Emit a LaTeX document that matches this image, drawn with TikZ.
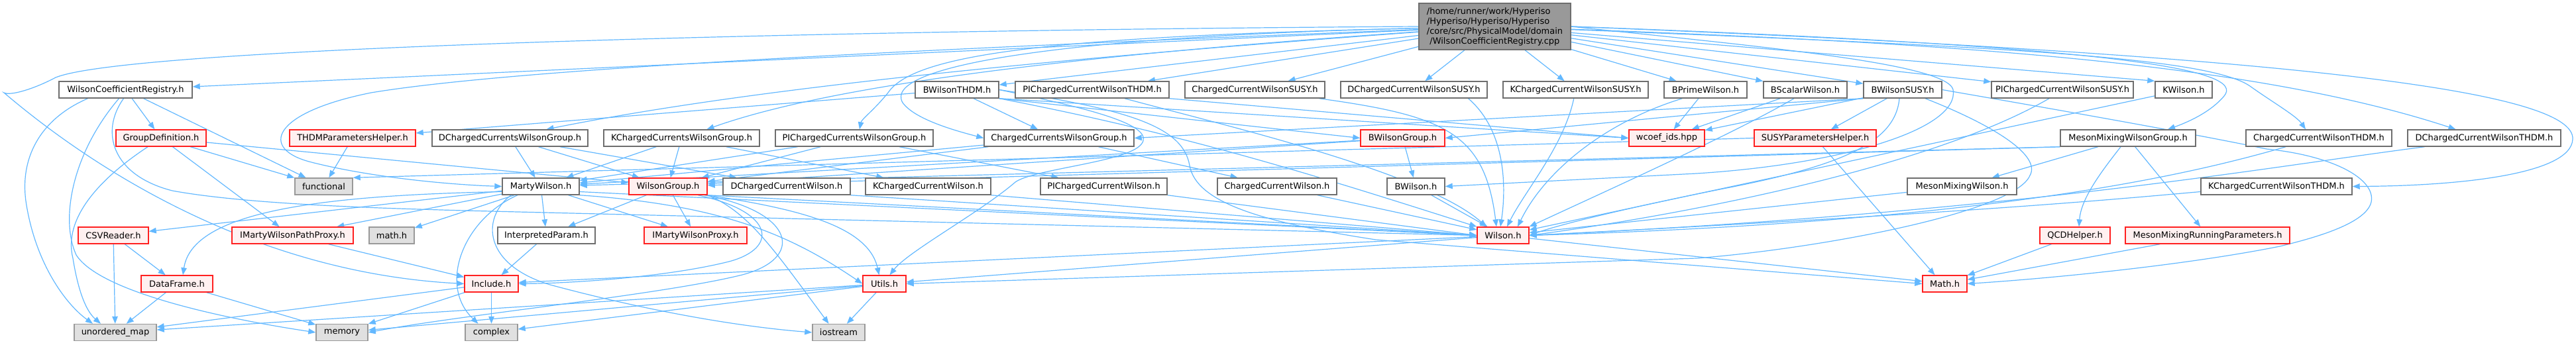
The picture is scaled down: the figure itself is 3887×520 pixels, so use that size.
\documentclass[tikz,border=0pt]{standalone}
\usepackage{fontspec}
\setmainfont{DejaVu Sans}
\usetikzlibrary{arrows.meta,backgrounds}
\definecolor{edgec}{HTML}{63B8FF}
\definecolor{nb}{HTML}{6E6E6E}
\definecolor{rb}{HTML}{FF2020}
\definecolor{rf}{HTML}{FFF0F0}
\definecolor{sf}{HTML}{E0E0E0}
\definecolor{sb}{HTML}{999999}
\definecolor{rootf}{HTML}{999999}
\begin{document}
\begin{tikzpicture}[x=1pt,y=-1pt,
  base/.style={line width=1.4pt,minimum height=25pt,inner sep=0pt,font=\fontsize{13}{15}\selectfont},
  wn/.style={base,draw=nb,fill=white},
  rn/.style={base,draw=rb,fill=rf},
  gn/.style={base,draw=sb,fill=sf},
  e/.style={draw=edgec,line width=1.2pt,-{Triangle[length=11pt,width=8.5pt]}}]
\useasboundingbox (0,0) rectangle (3887,520);
% root
\node[base,draw=nb,fill=rootf,minimum width=229pt,minimum height=70pt,align=left] (root) at (2255.5,40)
 {/home/runner/work/Hyperiso\\/Hyperiso/Hyperiso/Hyperiso\\/core/src/PhysicalModel/domain\\\hspace*{4.5pt}/WilsonCoefficientRegistry.cpp};
% row 1
\node[wn,minimum width=201pt] (wcr) at (189.5,135.5) {WilsonCoefficientRegistry.h};
\node[wn,minimum width=126pt] (bthdm) at (1444,135.5) {BWilsonTHDM.h};
\node[wn,minimum width=232pt] (pithdm) at (1648,135.5) {PIChargedCurrentWilsonTHDM.h};
\node[wn,minimum width=211pt] (ccsusy) at (1893.5,135.5) {ChargedCurrentWilsonSUSY.h};
\node[wn,minimum width=221pt] (dsusy) at (2133.5,135.5) {DChargedCurrentWilsonSUSY.h};
\node[wn,minimum width=219pt] (ksusy) at (2377.5,135.5) {KChargedCurrentWilsonSUSY.h};
\node[wn,minimum width=125pt] (bprime) at (2573.5,135.5) {BPrimeWilson.h};
\node[wn,minimum width=126pt] (bscalar) at (2724,135.5) {BScalarWilson.h};
\node[wn,minimum width=118pt] (bsusy) at (2871,135.5) {BWilsonSUSY.h};
\node[wn,minimum width=214pt] (pisusy) at (3112,135.5) {PIChargedCurrentWilsonSUSY.h};
\node[wn,minimum width=86pt] (kwilson) at (3295,135.5) {KWilson.h};
% row 2
\node[rn,minimum width=136pt] (gdef) at (243,208.5) {GroupDefinition.h};
\node[rn,minimum width=190pt] (thdmph) at (532,208.5) {THDMParametersHelper.h};
\node[wn,minimum width=235pt] (dcwg) at (769.5,208.5) {DChargedCurrentsWilsonGroup.h};
\node[wn,minimum width=235pt] (kcwg) at (1028.5,208.5) {KChargedCurrentsWilsonGroup.h};
\node[wn,minimum width=238pt] (picwg) at (1289,208.5) {PIChargedCurrentsWilsonGroup.h};
\node[wn,minimum width=226pt] (ccwg) at (1598,208.5) {ChargedCurrentsWilsonGroup.h};
\node[rn,minimum width=127pt] (bwg) at (2116.5,208.5) {BWilsonGroup.h};
\node[rn,minimum width=114pt] (wcoef) at (2515,208.5) {wcoef\_ids.hpp};
\node[rn,minimum width=184pt] (susyph) at (2739,208.5) {SUSYParametersHelper.h};
\node[wn,minimum width=204pt] (mmwg) at (3211,208.5) {MesonMixingWilsonGroup.h};
\node[wn,minimum width=220pt] (ccthdm) at (3499,208.5) {ChargedCurrentWilsonTHDM.h};
\node[wn,minimum width=231pt] (dthdm) at (3748.5,208.5) {DChargedCurrentWilsonTHDM.h};
% row 3
\node[gn,minimum width=87pt] (func) at (488.5,281.5) {functional};
\node[wn,minimum width=116pt] (marty) at (816,281.5) {MartyWilson.h};
\node[rn,minimum width=118pt] (wgrp) at (1008,281.5) {WilsonGroup.h};
\node[wn,minimum width=192pt] (dccw) at (1187,281.5) {DChargedCurrentWilson.h};
\node[wn,minimum width=189pt] (kccw) at (1400.5,281.5) {KChargedCurrentWilson.h};
\node[wn,minimum width=191pt] (piccw) at (1665.5,281.5) {PIChargedCurrentWilson.h};
\node[wn,minimum width=180pt] (ccw) at (1927,281.5) {ChargedCurrentWilson.h};
\node[wn,minimum width=87pt] (bwil) at (2136.5,281.5) {BWilson.h};
\node[wn,minimum width=165pt] (mmw) at (2960.5,281.5) {MesonMixingWilson.h};
\node[wn,minimum width=228pt] (kthdm) at (3435,281.5) {KChargedCurrentWilsonTHDM.h};
% row 4
\node[rn,minimum width=106pt] (csv) at (171,355.5) {CSVReader.h};
\node[rn,minimum width=183pt] (impp) at (441.5,355.5) {IMartyWilsonPathProxy.h};
\node[gn,minimum width=68pt] (mathl) at (591,355.5) {math.h};
\node[wn,minimum width=147pt] (interp) at (824.5,355.5) {InterpretedParam.h};
\node[rn,minimum width=155pt] (imp) at (1049.5,355.5) {IMartyWilsonProxy.h};
\node[rn,minimum width=78pt] (wilson) at (2268,355.5) {Wilson.h};
\node[rn,minimum width=106pt] (qcd) at (3131,355.5) {QCDHelper.h};
\node[rn,minimum width=248pt] (mmrp) at (3331,355.5) {MesonMixingRunningParameters.h};
% row 5
\node[rn,minimum width=108pt] (dataf) at (267,428.5) {DataFrame.h};
\node[rn,minimum width=81pt] (incl) at (741.5,428.5) {Include.h};
\node[rn,minimum width=65pt] (utils) at (1334.5,428.5) {Utils.h};
\node[rn,minimum width=67pt] (mathu) at (2934.5,428.5) {Math.h};
% row 6
\node[gn,minimum width=124pt] (umap) at (174,502) {unordered\_map};
\node[gn,minimum width=78pt] (memory) at (516,502) {memory};
\node[gn,minimum width=79pt] (complex) at (741.5,502) {complex};
\node[gn,minimum width=79pt] (iostream) at (1265.5,502) {iostream};

\begin{pgfonlayer}{background}
% ---- root
\draw[e] (root) -- (wcr);
\draw[e] (root) -- (bthdm);
\draw[e] (root) -- (pithdm);
\draw[e] (root) -- (ccsusy);
\draw[e] (root) -- (dsusy);
\draw[e] (root) -- (ksusy);
\draw[e] (root) -- (bprime);
\draw[e] (root) -- (bscalar);
\draw[e] (root) -- (bsusy);
\draw[e] (root) -- (pisusy);
\draw[e] (root) -- (kwilson.north west);
\draw[e] (root) .. controls (3000,70) and (3330,85) .. (3395,130) .. controls (3430,155) and (3465,175) .. ([xshift=-20pt]ccthdm.north);
\draw[e] (root) .. controls (2950,65) and (3400,95) .. ([xshift=-43pt]dthdm.north);
\draw[e] (root.east) .. controls (3500,85) and (3885,140) .. (3882,210) .. controls (3880,265) and (3700,281) .. (kthdm.east);
\draw[e] (root.east) .. controls (3200,70) and (3390,105) .. (3356,145) .. controls (3335,170) and (3300,185) .. ([xshift=60pt]mmwg.north);
\draw[e] (root) .. controls (1500,95) and (1100,140) .. ([xshift=55pt]dcwg.north);
\draw[e] (root) .. controls (1600,85) and (1250,130) .. ([xshift=38pt]kcwg.north);
\draw[e] (root) .. controls (1600,55) and (1380,80) .. (1340,140) .. controls (1320,165) and (1300,180) .. ([xshift=8pt]picwg.north);
\draw[e] (root) .. controls (1600,55) and (1330,100) .. (1362,155) .. controls (1380,180) and (1440,197) .. (ccwg.west);
\draw[e] (root.west) .. controls (1300,45) and (200,70) .. (84,117) .. controls (50,135) and (15,145) .. (6,140) .. controls (100,220) and (350,410) .. (incl.west);
\draw[e] (root) .. controls (1500,70) and (800,100) .. (560,140) .. controls (410,170) and (390,225) .. (470,245) .. controls (560,268) and (680,279) .. (marty.west);
\draw[e] (root.east) .. controls (2650,70) and (2935,95) .. (2947,135) .. controls (2958,195) and (2780,248) .. (2560,262) -- (bwil.east);
% ---- WilsonCoefficientRegistry.h
\draw[e] (wcr) -- (gdef);
\draw[e] (wcr) -- (func);
\draw[e] ([xshift=-57pt]wcr.south) .. controls (60,180) and (28,240) .. (40,310) .. controls (55,400) and (100,460) .. ([xshift=-34pt]umap.north);
\draw[e] ([xshift=-10pt]wcr.south) .. controls (110,230) and (90,330) .. (115,385) .. controls (150,440) and (330,480) .. (memory.west);
\draw[e] ([xshift=-3pt]wcr.south) .. controls (150,200) and (170,265) .. (260,288) .. controls (380,310) and (600,315) .. (700,318) -- (wilson.west);
% ---- GroupDefinition.h
\draw[e] ([xshift=-20pt]gdef.south) .. controls (150,270) and (95,330) .. (110,390) .. controls (118,440) and (130,470) .. ([xshift=-22pt]umap.north);
\draw[e] (gdef) -- ([xshift=-20pt]impp.north);
\draw[e] (gdef) -- (func);
\draw[e] (gdef) -- (wgrp);
% ---- THDM
\draw[e] (thdmph) -- (func);
\draw[e] (bthdm) -- (thdmph);
\draw[e] (bthdm.south east) -- (bwg.west);
\draw[e] (bthdm.south east) -- (wcoef.west);
\draw[e] ([xshift=25pt]bthdm.south) -- ([xshift=-32pt]ccwg.north);
\draw[e] (bthdm.south east) .. controls (1800,205) and (2000,270) .. (wilson.north west);
\draw[e] (bthdm.east) .. controls (1650,165) and (1745,190) .. (1722,218) .. controls (1700,245) and (1560,255) .. (1532,275) .. controls (1480,320) and (1370,380) .. ([xshift=8pt]utils.north);
\draw[e] (bthdm.east) .. controls (1700,165) and (1785,190) .. (1795,250) .. controls (1805,305) and (1900,335) .. (2076,362) -- (mathu.west);
\draw[e] (pithdm.south east) -- (wcoef.west);
\draw[e] (pithdm) .. controls (1850,190) and (2150,260) .. ([xshift=-25pt]wilson.north);
% ---- SUSY & B files
\draw[e] ([xshift=97pt]ccsusy.south) .. controls (2180,175) and (2240,200) .. ([xshift=-10pt]wilson.north);
\draw[e] ([xshift=82pt]dsusy.south) .. controls (2275,200) and (2272,290) .. ([xshift=-4pt]wilson.north);
\draw[e] (ksusy) .. controls (2360,220) and (2300,290) .. ([xshift=6pt]wilson.north);
\draw[e] ([xshift=-35pt]bprime.south) .. controls (2420,185) and (2330,260) .. ([xshift=22pt]wilson.north);
\draw[e] ([xshift=-17pt]bscalar.south) .. controls (2620,200) and (2420,290) .. (wilson.north east);
\draw[e] ([xshift=-5pt]bsusy.south) .. controls (2860,215) and (2780,250) .. (2600,285) .. controls (2450,315) and (2350,340) .. (wilson.east);
\draw[e] ([xshift=-20pt]pisusy.south) .. controls (2900,260) and (2500,330) .. (wilson.east);
\draw[e] (kwilson) -- (wilson);
\draw[e] (bprime) -- (wcoef);
\draw[e] (bscalar) -- (wcoef);
\draw[e] (bsusy) -- (wcoef);
\draw[e] (bsusy) -- (susyph);
\draw[e] (bsusy.south west) -- (bwg.east);
\draw[e] (bsusy.south west) -- (ccwg.east);
\draw[e] ([xshift=34pt]bsusy.south) .. controls (3010,190) and (3080,235) .. (3063,265) .. controls (3040,320) and (2750,375) .. (2560,390) -- (utils.east);
\draw[e] (bsusy.east) .. controls (3100,165) and (3300,200) .. (3420,225) .. controls (3520,235) and (3585,270) .. (3578,305) .. controls (3570,340) and (3480,362) .. (3440,372) .. controls (3300,400) and (3100,420) .. (mathu.east);
\draw[e] (susyph) -- ([xshift=-15pt]mathu.north);
\draw[e] (susyph.west) -- (func.north east);
% ---- THDM right
\draw[e] ([xshift=-50pt]ccthdm.south) .. controls (3300,265) and (3000,335) .. (wilson.east);
\draw[e] ([xshift=-90pt]dthdm.south) .. controls (3400,255) and (3050,320) .. (wilson.east);
\draw[e] ([yshift=-8pt]kthdm.west) .. controls (3200,300) and (3000,320) .. (wilson.east);
% ---- groups
\draw[e] (dcwg) -- (marty);
\draw[e] (dcwg) -- (wgrp);
\draw[e] (dcwg) -- (dccw);
\draw[e] (kcwg) -- (marty);
\draw[e] (kcwg) -- (wgrp);
\draw[e] (kcwg) -- (kccw);
\draw[e] (picwg) -- (marty);
\draw[e] (picwg) -- (wgrp);
\draw[e] (picwg) -- (piccw);
\draw[e] (ccwg) -- (marty);
\draw[e] (ccwg) -- (wgrp);
\draw[e] (ccwg) -- (ccw);
\draw[e] (bwg) -- (marty);
\draw[e] (bwg) -- (wgrp);
\draw[e] (bwg) -- (bwil);
\draw[e] (mmwg.south west) -- (marty);
\draw[e] (mmwg.south west) -- (wgrp);
\draw[e] (mmwg) -- (mmw);
\draw[e] (mmwg) -- (mmrp);
\draw[e] ([xshift=-11pt]mmwg.south) .. controls (3170,260) and (3140,300) .. ([xshift=6pt]qcd.north);
\draw[e] (qcd) -- (mathu);
\draw[e] (mmrp) -- (mathu);
% ---- row 3 wilsons
\draw[e] (dccw.south east) -- (wilson.west);
\draw[e] (kccw.south east) -- (wilson.west);
\draw[e] (piccw.south east) -- (wilson.west);
\draw[e] (ccw) -- (wilson);
\draw[e] (bwil) -- (wilson);
\draw[e] (mmw) -- (wilson);
% ---- MartyWilson
\draw[e] (marty) -- (interp);
\draw[e] (marty) -- (imp);
\draw[e] (marty) -- (mathl);
\draw[e] (marty) -- (csv);
\draw[e] (marty) -- (impp);
\draw[e] (marty.south east) .. controls (1100,310) and (1200,360) .. (utils.west);
\draw[e] ([yshift=-8pt]marty.east) -- (wilson.west);
\draw[e] ([xshift=-35pt]marty.south) .. controls (700,330) and (660,430) .. ([xshift=-20pt]complex.north);
\draw[e] ([xshift=-45pt]marty.south) .. controls (725,330) and (730,400) .. (830,430) .. controls (960,465) and (1100,492) .. (iostream.west);
\draw[e] ([yshift=-8pt]marty.west) .. controls (480,295) and (290,320) .. ([xshift=9pt]dataf.north);
% ---- WilsonGroup
\draw[e] (wgrp) -- (interp);
\draw[e] (wgrp) -- (imp);
\draw[e] (wgrp.south east) .. controls (1130,320) and (1170,380) .. ([xshift=-15pt]iostream.north);
\draw[e] ([xshift=45pt]wgrp.south) .. controls (1170,320) and (1175,375) .. (1100,395) .. controls (1000,420) and (850,428) .. (incl.east);
\draw[e] ([xshift=55pt]wgrp.south) .. controls (1200,320) and (1215,390) .. (1120,415) .. controls (1000,445) and (700,475) .. (memory.east);
\draw[e] (wgrp.south east) .. controls (1200,315) and (1310,340) .. ([xshift=-8pt]utils.north);
\draw[e] (wgrp.south east) -- (wilson.west);
% ---- lower
\draw[e] (interp) -- (incl);
\draw[e] (impp) -- (incl);
\draw[e] (csv) -- (umap);
\draw[e] (csv) -- (dataf);
\draw[e] (dataf) -- (umap);
\draw[e] (dataf) -- (memory);
\draw[e] (incl) -- (complex);
\draw[e] (incl) -- (memory);
\draw[e] (incl) -- (umap);
\draw[e] (utils) -- (complex);
\draw[e] (utils) -- (memory);
\draw[e] (utils) -- (umap);
\draw[e] (utils) -- (iostream);
\draw[e] (wilson) -- (mathu);
\draw[e] (wilson) -- (utils);
\draw[e] (wilson) -- (incl);
\end{pgfonlayer}
\end{tikzpicture}
\end{document}
